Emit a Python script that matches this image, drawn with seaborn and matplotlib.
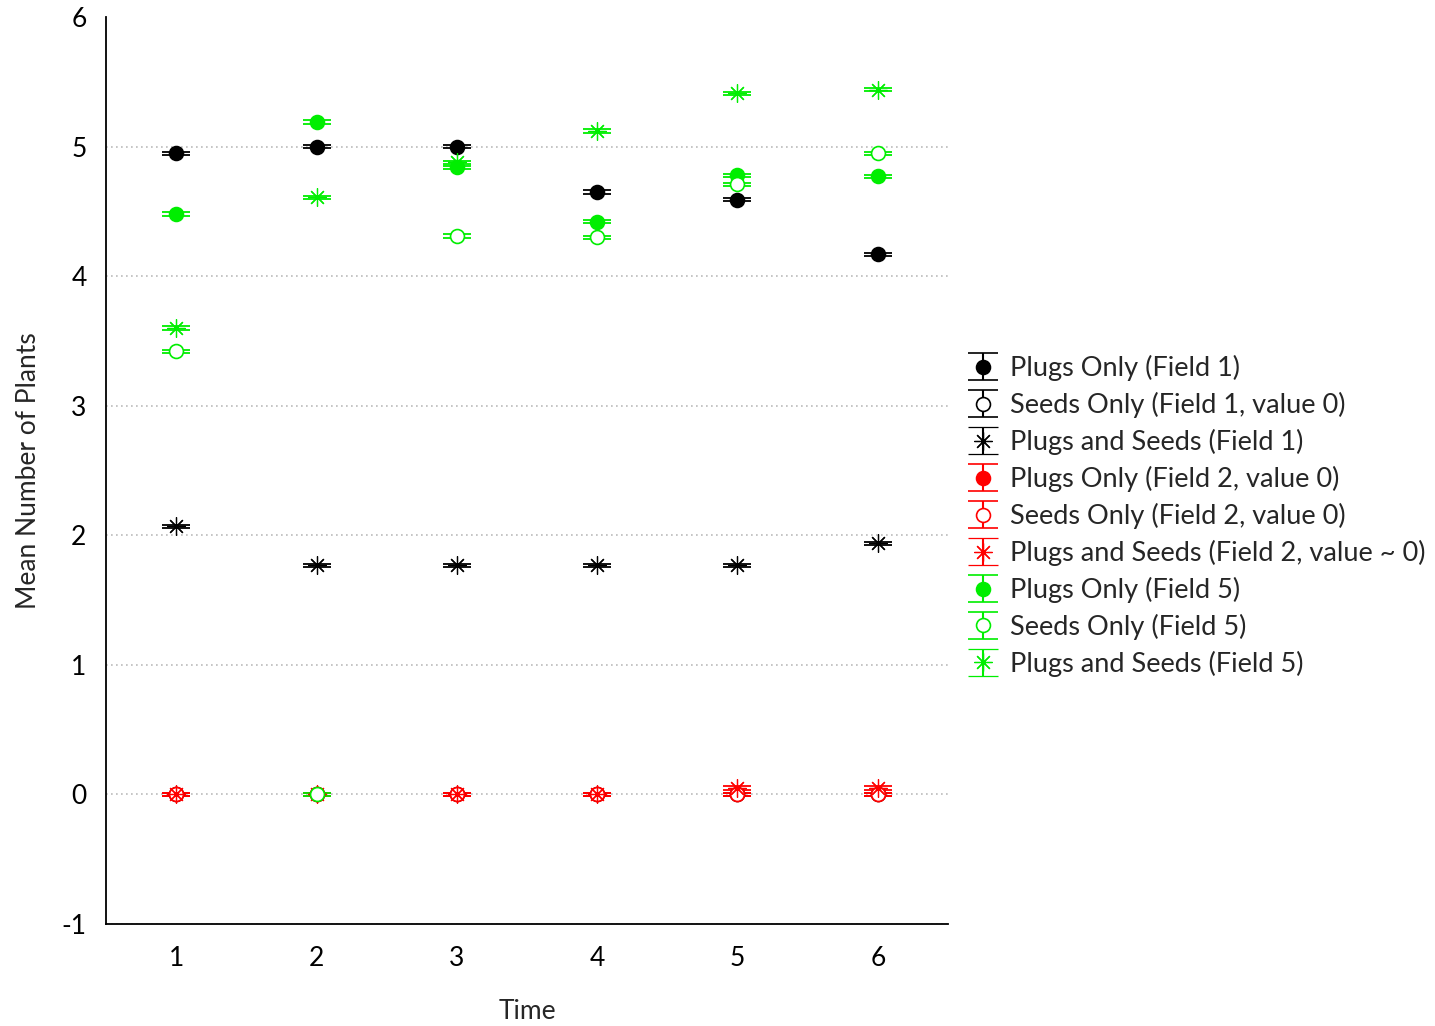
import numpy as np
import pandas as pd
import matplotlib.pyplot as plt
import seaborn as sns

# --- Data ---
times = [1, 2, 3, 4, 5, 6]

plugs_f1 = [4.95, 5.00, 5.00, 4.65, 4.59, 4.17]
seeds_f1 = [0, 0, 0, 0, 0, 0]
both_f1 = [2.07, 1.77, 1.77, 1.77, 1.77, 1.94]

plugs_f2 = [0, 0, 0, 0, 0, 0]
seeds_f2 = [0, 0, 0, 0, 0, 0]
both_f2 = [0, 0, 0, 0, 0.05, 0.05]

plugs_f5 = [4.48, 5.19, 4.84, 4.42, 4.78, 4.77]
seeds_f5 = [3.42, 0.00, 4.31, 4.30, 4.71, 4.95]
both_f5 = [3.60, 4.61, 4.88, 5.12, 5.41, 5.44]

labels = [
    "Plugs Only (Field 1)",
    "Seeds Only (Field 1, value 0)",
    "Plugs and Seeds (Field 1)",
    "Plugs Only (Field 2, value 0)",
    "Seeds Only (Field 2, value 0)",
    "Plugs and Seeds (Field 2, value ~ 0)",
    "Plugs Only (Field 5)",
    "Seeds Only (Field 5)",
    "Plugs and Seeds (Field 5)",
]
series = [plugs_f1, seeds_f1, both_f1, plugs_f2, seeds_f2, both_f2,
          plugs_f5, seeds_f5, both_f5]
colors = ["black"] * 3 + ["#ff0000"] * 3 + ["#00ee00"] * 3
kinds = ["filled", "open", "star"] * 3

SE = 0.012  # tiny standard errors, only the caps show

# --- Style ---
sns.set_style("white")
plt.rcParams["font.family"] = ["Lato", "DejaVu Sans"]
plt.rcParams["axes.unicode_minus"] = False

fig = plt.figure(figsize=(14.35, 10.26), dpi=100)
ax = fig.add_axes([0.0739, 0.0994, 0.5867, 0.884])

for vals, lab, col, kind in zip(series, labels, colors, kinds):
    df = pd.DataFrame({"Time": times, "Mean": vals})
    if kind == "filled":
        mk, mfc, ms, mew = "o", col, 10, 1.2
    elif kind == "open":
        mk, mfc, ms, mew = "o", "white", 10, 1.2
    else:
        mk, mfc, ms, mew = (8, 2, 0), col, 13, 0.9
    ax.errorbar(df["Time"], df["Mean"], yerr=SE, fmt="none", ecolor=col,
                elinewidth=1.2, capsize=10, capthick=1.3, zorder=2)
    ax.plot(df["Time"], df["Mean"], linestyle="none", marker=mk, color=col,
            markerfacecolor=mfc, markeredgecolor=col, markersize=ms,
            markeredgewidth=mew, zorder=3)
    # legend proxy
    ax.errorbar([np.nan], [np.nan], yerr=[1], fmt="", linestyle="none",
                marker=mk, color=col, markerfacecolor=mfc, markeredgecolor=col,
                markersize=ms, markeredgewidth=mew, capsize=11,
                elinewidth=1.5, capthick=1.5, label=lab)

ax.set_xlim(0.5, 6.5)
ax.set_ylim(-1, 6)
ax.set_xticks(times)
ax.set_yticks(range(-1, 7))
ax.yaxis.grid(True, linestyle=(0, (1, 2)), color="#bbbbbb", linewidth=1.2)
ax.xaxis.grid(False)
ax.set_axisbelow(True)
# no gridline on the top tick
ax.get_ygridlines()[-1].set_visible(False)
sns.despine(ax=ax)
for sp in ["left", "bottom"]:
    ax.spines[sp].set_color("black")
    ax.spines[sp].set_linewidth(1.3)
ax.tick_params(axis="both", direction="in", length=6, width=1.2, labelsize=19,
               colors="black")
ax.tick_params(axis="x", pad=16)
ax.tick_params(axis="y", pad=14)

ax.set_xlabel("Time", fontsize=19, labelpad=20)
ax.set_ylabel("Mean Number of Plants", fontsize=19, labelpad=15)

ax.legend(loc="center left", bbox_to_anchor=(0.668, 0.497),
          bbox_transform=fig.transFigure, frameon=False, fontsize=19.5,
          handlelength=1.0, handletextpad=0.5, labelspacing=0.4,
          borderaxespad=0)

fig.savefig("out.png", dpi=100)
